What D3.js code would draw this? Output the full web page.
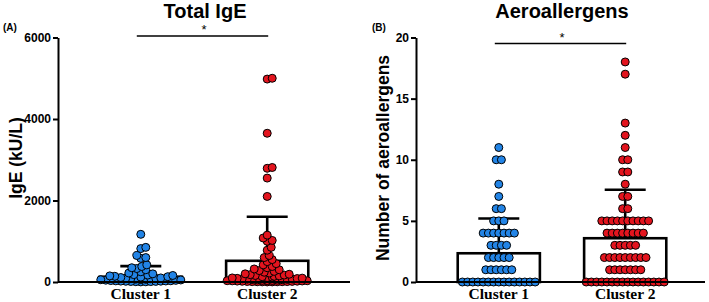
<!DOCTYPE html>
<html>
<head>
<meta charset="utf-8">
<script src="https://cdn.jsdelivr.net/npm/d3@7"></script>
<style>
  body { margin: 0; background: #fff; }
  svg { display: block; }
</style>
</head>
<body>
<div id="chart"></div>
<script>
/* Two dot + bar panels: total IgE and number of aeroallergens per cluster */

const categories = ["Cluster 1", "Cluster 2"];

// panel A: total IgE (kU/L), one value per patient
const igeTicks = [0, 2000, 4000, 6000];
const igeCluster1 = [1170, 850, 820, 650, 600, 580, 420, 380, 350, 330, 300, 250, 220, 200,
    180, 170, 160, 150, 140, 130, 120, 110, 100, 95, 90, 85, 80, 70, 65, 60, 55, 50,
    45, 40, 35, 30, 28, 25, 22, 20, 18, 15, 12, 10, 8, 5, 3];
const igeCluster2 = [5000, 4980, 3650, 2810, 2790, 2550, 2100, 1150, 1080, 1020, 1000, 850,
    780, 650, 600, 550, 500, 450, 420, 380, 350, 320, 300, 280, 260, 240, 220, 200, 190,
    180, 170, 160, 150, 140, 130, 120, 110, 100, 95, 90, 85, 80, 75, 70, 65, 60, 55, 50,
    45, 40, 38, 35, 32, 30, 28, 25, 22, 20, 18, 15, 12, 10, 9, 8, 6, 5, 4, 3, 2];
const igeMean = [130, 520];
const igeSD = [260, 1080];

// panel B: number of aeroallergens per patient
const aeroTicks = [0, 5, 10, 15, 20];
const aeroCluster1 = [11, 10, 10, 8, 7, 6, 6, 5, 5, 5, 4, 4, 4, 4, 4, 4, 4, 3, 3, 3, 3,
    2, 2, 2, 2, 2, 1, 1, 1, 1, 1, 1,
    0, 0, 0, 0, 0, 0, 0, 0, 0, 0, 0, 0, 0, 0, 0];
const aeroCluster2 = [18, 17, 13, 12, 11, 10, 10, 9, 9, 8, 7, 7, 6, 6,
    5, 5, 5, 5, 5, 5, 5, 5, 5, 5, 4, 4, 4, 4, 4, 4, 4, 4, 3, 3, 3, 3, 3,
    2, 2, 2, 2, 2, 2, 2, 2, 2, 1, 1, 1, 1, 1, 1, 1,
    0, 0, 0, 0, 0, 0, 0, 0, 0, 0, 0, 0, 0, 0, 0, 0];
const aeroMean = [2.35, 3.58];
const aeroSD = [2.85, 3.96];

const colors = ["#2284e6", "#e3141e"];

const width = 709, height = 302;
const svg = d3.select("#chart").append("svg")
    .attr("width", width)
    .attr("height", height)
    .attr("viewBox", [0, 0, width, height]);

const r = 4;
const sans = "'Liberation Sans', Arial, sans-serif";
const serif = "'Liberation Serif', 'Times New Roman', serif";

/* simple beeswarm: y fixed by value, x pushed out until no collision */
function swarm(values, cx, y, d) {
    const placed = [];
    const order = values.map((v, i) => i).sort((a, b) => values[a] - values[b]);
    for (let i of order) {
        const py = y(values[i]);
        let best = null, bestHits = Infinity;
        for (let k = 0; k <= 80; k++) {
            const off = (k % 2 ? 1 : -1) * Math.ceil(k / 2);
            const px = cx + off;
            let hits = 0;
            for (let p of placed) {
                const dx = p.x - px, dy = p.y - py;
                if (dx * dx + dy * dy < d * d) hits++;
            }
            if (hits === 0) { best = px; bestHits = 0; break; }
            if (hits < bestHits && Math.abs(off) <= 38) { best = px; bestHits = hits; }
        }
        placed.push({x: best, y: py, v: values[i]});
    }
    return placed;
}

/* rows for integer counts: dots spread evenly round the centre */
function rows(values, cx, y, s) {
    const groups = d3.group(values, v => v);
    const out = [];
    for (let [v, arr] of groups) {
        const n = arr.length;
        arr.forEach((_, i) => out.push({x: cx + (i - (n - 1) / 2) * s, y: y(v), v}));
    }
    return out;
}

function panel(o) {
    const g = svg.append("g");

    const x = d3.scaleBand()
        .domain(categories)
        .range([o.left, o.right])
        .paddingInner(0.35)
        .paddingOuter(0.33);

    const y = d3.scaleLinear()
        .domain([0, o.ticks[o.ticks.length - 1]])
        .range([282, 37.5]);

    // bars (white, outlined)
    g.selectAll(".bar")
        .data(categories)
        .join("rect")
        .attr("class", "bar")
        .attr("x", d => x(d))
        .attr("width", x.bandwidth())
        .attr("y", (d, i) => y(o.mean[i]))
        .attr("height", (d, i) => y(0) - y(o.mean[i]))
        .attr("fill", "#fff")
        .attr("stroke", "#000")
        .attr("stroke-width", 2.6);

    // error bars: mean to mean + SD with cap
    const err = g.selectAll(".err")
        .data(categories)
        .join("g")
        .attr("class", "err")
        .attr("stroke", "#000")
        .attr("stroke-width", 2.6);
    err.append("line")
        .attr("x1", d => x(d) + x.bandwidth() / 2)
        .attr("x2", d => x(d) + x.bandwidth() / 2)
        .attr("y1", (d, i) => y(o.mean[i]))
        .attr("y2", (d, i) => y(o.mean[i] + o.sd[i]));
    err.append("line")
        .attr("x1", d => x(d) + x.bandwidth() / 2 - 20.5)
        .attr("x2", d => x(d) + x.bandwidth() / 2 + 20.5)
        .attr("y1", (d, i) => y(o.mean[i] + o.sd[i]))
        .attr("y2", (d, i) => y(o.mean[i] + o.sd[i]));

    // dots
    o.series.forEach((vals, i) => {
        const cx = x(categories[i]) + x.bandwidth() / 2;
        const pts = o.layout(vals, cx, y);
        g.append("g").selectAll("circle")
            .data(pts)
            .join("circle")
            .attr("cx", d => d.x)
            .attr("cy", d => d.y)
            .attr("r", r)
            .attr("fill", colors[i])
            .attr("stroke", "#000")
            .attr("stroke-width", 1);
    });

    // axes
    const yAxis = d3.axisLeft(y)
        .tickValues(o.ticks)
        .tickFormat(d3.format("d"))
        .tickSize(5)
        .tickSizeOuter(0)
        .tickPadding(2);
    const ya = g.append("g")
        .attr("transform", `translate(${o.left},0)`)
        .call(yAxis);
    ya.selectAll("path, line").attr("stroke", "#000").attr("stroke-width", 2);
    ya.selectAll("text")
        .style("font-family", sans)
        .style("font-weight", "bold")
        .style("font-size", "12px")
        .attr("fill", "#000");

    const xAxis = d3.axisBottom(x).tickSize(0).tickPadding(6);
    const xa = g.append("g")
        .attr("transform", `translate(0,282)`)
        .call(xAxis);
    xa.select(".domain")
        .attr("d", `M${o.left},0H${o.axisEnd}`)
        .attr("stroke", "#000")
        .attr("stroke-width", 2);
    xa.selectAll("text")
        .style("font-family", serif)
        .style("font-weight", "bold")
        .style("font-size", "15.5px")
        .attr("fill", "#000");

    // title, panel letter, y label
    g.append("text")
        .attr("x", o.titleX).attr("y", 18)
        .attr("text-anchor", "middle")
        .style("font-family", sans)
        .style("font-weight", "bold")
        .style("font-size", "20px")
        .text(o.title);
    g.append("text")
        .attr("x", o.letterX).attr("y", 31)
        .style("font-family", sans)
        .style("font-weight", "bold")
        .style("font-size", "10px")
        .text(o.letter);
    g.append("text")
        .attr("transform", `translate(${o.labelX},${o.labelY}) rotate(-90)`)
        .attr("text-anchor", "middle")
        .style("font-family", sans)
        .style("font-weight", "bold")
        .style("font-size", "17.5px")
        .text(o.ylabel);

    // significance line and star
    const c1 = x(categories[0]) + x.bandwidth() / 2;
    const c2 = x(categories[1]) + x.bandwidth() / 2;
    g.append("line")
        .attr("x1", c1 - 4).attr("x2", c2 + 1)
        .attr("y1", o.sigY).attr("y2", o.sigY)
        .attr("stroke", "#000")
        .attr("stroke-width", 1.6);
    g.append("text")
        .attr("x", (c1 + c2) / 2).attr("y", o.sigY - 2)
        .attr("text-anchor", "middle")
        .style("font-family", sans)
        .style("font-size", "13px")
        .text("*");
}

panel({
    left: 58, right: 350, axisEnd: 350,
    ticks: igeTicks,
    series: [igeCluster1, igeCluster2],
    mean: igeMean, sd: igeSD,
    layout: (vals, cx, y) => swarm(vals, cx, y, 4.6),
    title: "Total IgE", titleX: 205,
    letter: "(A)", letterX: 3,
    ylabel: "IgE (kU/L)", labelX: 22, labelY: 158,
    sigY: 36
});

panel({
    left: 416, right: 708, axisEnd: 705,
    ticks: aeroTicks,
    series: [aeroCluster1, aeroCluster2],
    mean: aeroMean, sd: aeroSD,
    layout: (vals, cx, y) => rows(vals, cx, y, 5.2),
    title: "Aeroallergens", titleX: 562,
    letter: "(B)", letterX: 372,
    ylabel: "Number of aeroallergens", labelX: 389, labelY: 158,
    sigY: 43.5
});
</script>
</body>
</html>
